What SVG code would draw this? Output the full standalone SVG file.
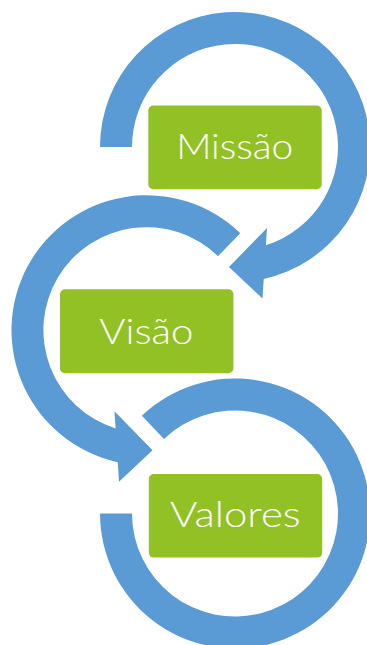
<svg xmlns="http://www.w3.org/2000/svg" width="367" height="645" viewBox="0 0 367 645">
<style>
.ring{fill:#5B9BD5;}
.box{fill:#92C126;}
.lbl{fill:#FFFFFF;font-family:Lato,"Open Sans","Liberation Sans",sans-serif;font-weight:300;font-size:36px;text-anchor:middle;}
</style>
<rect width="367" height="645" fill="#FFFFFF"/>
<g id="connectors">
<path class="ring" d="M100,147 A135,135 0 1 1 263.75,278.9 L262.5,298.5 L229,267 L267,228 L265.9,245.2 A103,103 0 1 0 132,147 Z"/>
<path class="ring" d="M240.28,233.14 A135,135 0 1 0 117.75,462.15 L119,481.75 L152.5,450.25 L114.5,411.25 L115.6,428.45 A103,103 0 1 1 218.05,256.16 Z"/>
<path class="ring" d="M100,513.5 A135,135 0 1 0 141.9,415.7 L164,438.9 A103,103 0 1 1 132,513.5 Z"/>
</g>
<g id="missao">
<rect class="box" x="148.3" y="105.5" width="173.4" height="83.8" rx="5"/>
<text class="lbl" x="234.7" y="159.3" textLength="117" lengthAdjust="spacingAndGlyphs">Missão</text>
</g>
<g id="visao">
<rect class="box" x="60" y="289.3" width="173.4" height="84" rx="5"/>
<text class="lbl" x="146.3" y="344" textLength="94" lengthAdjust="spacingAndGlyphs">Visão</text>
</g>
<g id="valores">
<rect class="box" x="148.8" y="474" width="173.4" height="83.6" rx="5"/>
<text class="lbl" x="235.3" y="527.3" textLength="130.7" lengthAdjust="spacingAndGlyphs">Valores</text>
</g>
</svg>
